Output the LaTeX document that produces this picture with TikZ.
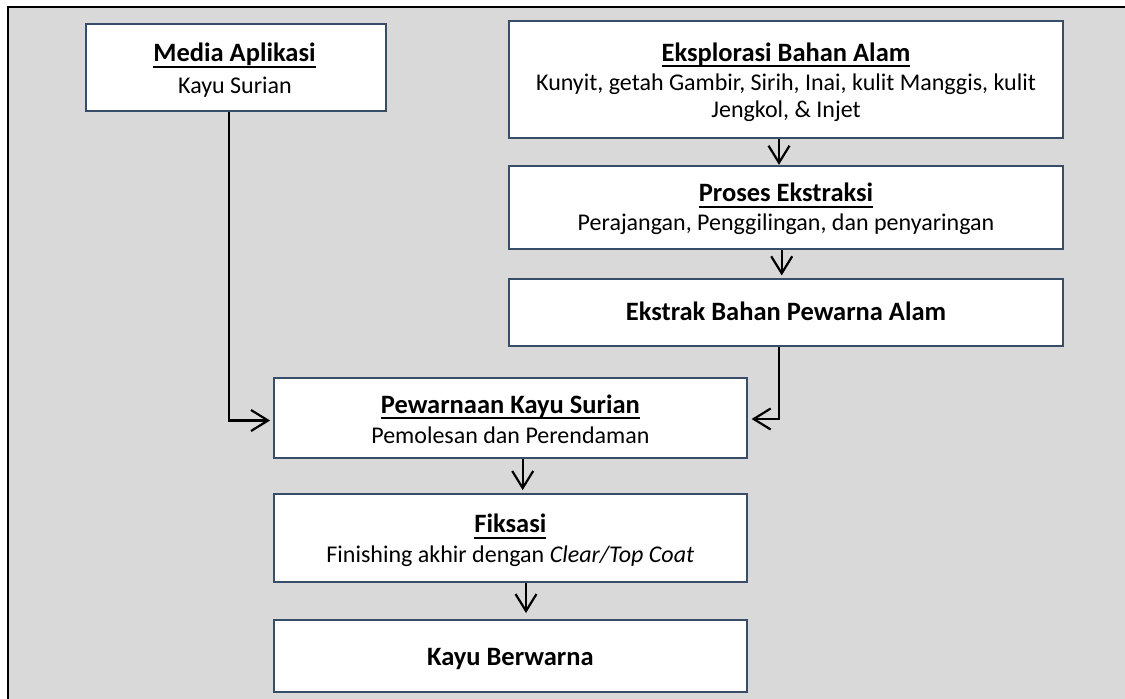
\documentclass[tikz,border=0pt]{standalone}
\usepackage{fontspec}
\setmainfont{Carlito}
\usetikzlibrary{arrows.meta}
\definecolor{bg}{HTML}{D9D9D9}
\definecolor{edge}{RGB}{56,77,105}
\newcommand{\ulx}[1]{\setbox0\hbox{#1}\rlap{\rule[-6pt]{\wd0}{2.2pt}}\box0}
\begin{document}
\begin{tikzpicture}[x=1pt,y=-1pt,
  box/.style={draw=edge, line width=1.8pt, fill=white, inner sep=0pt},
  tl/.style={anchor=base, inner sep=0pt, font=\fontsize{24}{28}\selectfont},
  ttl/.style={anchor=base, inner sep=0pt, font=\fontsize{26.5}{30}\selectfont\bfseries},
  arr/.style={line width=2.2pt, -{Straight Barb[length=17pt,width=21pt]}}]
\useasboundingbox (0,0) rectangle (1125,699);
\fill[bg] (8,7) rectangle (1125,699);
\draw[line width=2.5pt] (8,699) -- (8,7) -- (1125,7);

\node[box, minimum width=300pt, minimum height=86.7pt] (media) at (236,67.65) {};
\node[box, minimum width=554pt, minimum height=117pt] (eks) at (786,79.2) {};
\node[box, minimum width=554pt, minimum height=83.6pt] (pro) at (786,207.5) {};
\node[box, minimum width=554pt, minimum height=66.4pt] (ekt) at (786,312.5) {};
\node[box, minimum width=472.7pt, minimum height=80pt] (pew) at (510.35,418.3) {};
\node[box, minimum width=472.7pt, minimum height=88.3pt] (fik) at (510.35,538.15) {};
\node[box, minimum width=472.7pt, minimum height=72.3pt] (kay) at (510.35,656.15) {};

\node[ttl] (media1) at (234.5,61.7) {\ulx{Media Aplikasi}};
\node[tl] (media2) at (235,93.3) {Kayu Surian};
\node[ttl] (eks1) at (786,61) {\ulx{Eksplorasi Bahan Alam}};
\node[tl] (eks2) at (786,90) {Kunyit, getah Gambir, Sirih, Inai, kulit Manggis, kulit};
\node[tl] (eks3) at (786,117) {Jengkol, \& Injet};
\node[ttl] (pro1) at (786,201.7) {\ulx{Proses Ekstraksi}};
\node[tl] (pro2) at (786,230.5) {Perajangan, Penggilingan, dan penyaringan};
\node[ttl] (ekt1) at (786,320) {Ekstrak Bahan Pewarna Alam};
\node[ttl] (pew1) at (510.35,413.3) {\ulx{Pewarnaan Kayu Surian}};
\node[tl] (pew2) at (510.35,443.3) {Pemolesan dan Perendaman};
\node[ttl] (fik1) at (510.35,532.7) {\ulx{Fiksasi}};
\node[tl] (fik2) at (510.35,562.7) {Finishing akhir dengan \textit{Clear/Top Coat}};
\node[ttl] (kay1) at (510.35,665) {Kayu Berwarna};

\draw[arr, shorten >=3pt] ([xshift=-7.3pt]media.south) |- ([yshift=-2.2pt]pew.west);
\draw[arr, shorten >=4pt] ([xshift=-6.7pt]ekt.south) |- ([yshift=-0.7pt]pew.east);
\draw[arr] ([xshift=-7pt]eks.south) -- ([xshift=-7pt]pro.north);
\draw[arr, shorten >=3pt] ([xshift=-4.3pt]pro.south) -- ([xshift=-4.3pt]ekt.north);
\draw[arr, shorten >=3pt] ([xshift=12.35pt]pew.south) -- ([xshift=12.35pt]fik.north);
\draw[arr, shorten >=6pt] ([xshift=15.65pt]fik.south) -- ([xshift=15.65pt]kay.north);
\end{tikzpicture}
\end{document}
